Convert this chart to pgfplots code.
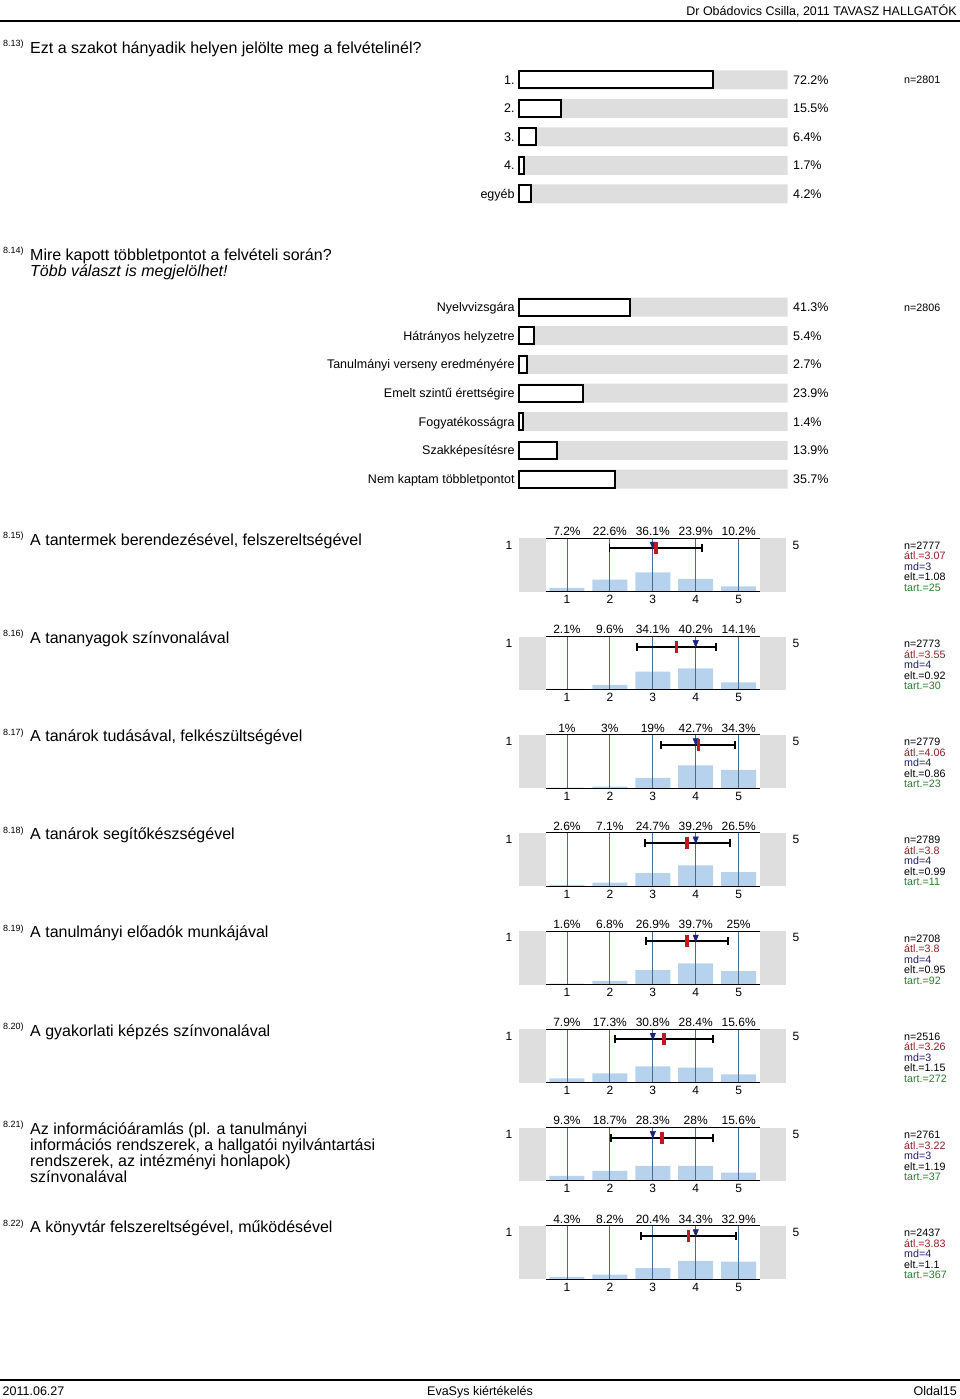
\documentclass[border=0pt]{standalone}
\usepackage{fontspec}
\setmainfont{Liberation Sans}
\usepackage{pgfplots}
\pgfplotsset{compat=1.18}

\definecolor{graybg}{RGB}{222,222,222}
\definecolor{barblue}{RGB}{183,210,236}
\definecolor{gridblue}{RGB}{72,108,145}
\definecolor{meanred}{RGB}{190,25,30}
\definecolor{mdblue}{RGB}{25,35,125}
\definecolor{atlc}{RGB}{140,30,35}
\definecolor{mdc}{RGB}{30,30,105}
\definecolor{tartc}{RGB}{40,125,45}

\newcommand\fs[1]{\fontsize{#1}{#1}\selectfont}

\pgfplotsset{
  hbars/.style={
    anchor=north west, scale only axis, width=268.3pt,
    xmin=0, xmax=100, y dir=reverse, clip=false,
    axis line style={draw=none}, major tick length=0pt,
    xtick=\empty,
    yticklabel style={font=\fs{12.5}, anchor=base east, inner sep=0pt,
      xshift=-4.5pt, yshift=-4.5pt},
  },
  panel/.style={
    anchor=north west, scale only axis, width=267pt, height=53.4pt,
    xmin=-0.11, xmax=6.11, ymin=0, ymax=100, clip=false,
    axis line style={draw=none}, major tick length=0pt,
    ytick=\empty, xtick={1,2,3,4,5}, xticklabels={1,2,3,4,5},
    xticklabel style={font=\fs{12}, anchor=base, inner sep=0pt, yshift=-12pt},
  },
}

% #1 top y, #2-#6 percentages, #7 mean, #8 median, #9 sd
\newcommand\panel[9]{%
  \begin{axis}[panel, at={(519.3pt,-#1pt)}]
    \fill[graybg] (axis cs:-0.11,0) rectangle (axis cs:0.51,100);
    \fill[graybg] (axis cs:5.49,0) rectangle (axis cs:6.11,100);
    \addplot[ybar, bar width=35pt, bar shift=0pt, fill=barblue, draw=none]
      coordinates {(1,#2) (2,#3) (3,#4) (4,#5) (5,#6)};
    \draw[gridblue, line width=0.9pt] (axis cs:1,0) -- (axis cs:1,100);
    \draw[gridblue, line width=0.9pt] (axis cs:2,0) -- (axis cs:2,100);
    \draw[gridblue, line width=0.9pt] (axis cs:3,0) -- (axis cs:3,100);
    \draw[gridblue, line width=0.9pt] (axis cs:4,0) -- (axis cs:4,100);
    \draw[gridblue, line width=0.9pt] (axis cs:5,0) -- (axis cs:5,100);
    \draw[black, line width=0.9pt] (axis cs:0.51,100) -- (axis cs:5.49,100);
    \draw[black, line width=0.9pt] (axis cs:0.51,0) -- (axis cs:5.49,0);
    \addplot[black, line width=2pt, mark=none,
      error bars/.cd, x dir=both, x explicit,
      error bar style={line width=2pt, black},
      error mark options={rotate=90, mark size=4pt, line width=1.8pt, black}]
      coordinates {(#7,81) +- (#9,0)};
    \addplot[only marks, mark=triangle*, mark size=4.5pt,
      mark options={rotate=180, xscale=0.7, fill=mdblue, draw=mdblue}]
      coordinates {(#8,88.5)};
    \addplot[only marks, mark=|, mark size=6pt,
      mark options={line width=3.6pt, draw=meanred}]
      coordinates {(#7,81)};
    \node[anchor=base, font=\fs{12}, inner sep=0pt, yshift=2.6pt] at (axis cs:1,100) {#2\%};
    \node[anchor=base, font=\fs{12}, inner sep=0pt, yshift=2.6pt] at (axis cs:2,100) {#3\%};
    \node[anchor=base, font=\fs{12}, inner sep=0pt, yshift=2.6pt] at (axis cs:3,100) {#4\%};
    \node[anchor=base, font=\fs{12}, inner sep=0pt, yshift=2.6pt] at (axis cs:4,100) {#5\%};
    \node[anchor=base, font=\fs{12}, inner sep=0pt, yshift=2.6pt] at (axis cs:5,100) {#6\%};
  \end{axis}
  \node[anchor=base, font=\fs{12}, inner sep=0pt] at (509,{#1+10.8}) {1};
  \node[anchor=base, font=\fs{12}, inner sep=0pt] at (796,{#1+10.8}) {5};
}

% #1 top y, #2 n, #3 mean, #4 md, #5 sd, #6 abstentions
\newcommand\stats[6]{%
  \node[anchor=north west, align=left, inner sep=0pt,
    font=\fontsize{10.7}{10.5}\selectfont] at (904,{#1+3.4})
    {n=#2\\\textcolor{atlc}{átl.=#3}\\\textcolor{mdc}{md=#4}\\elt.=#5\\\textcolor{tartc}{tart.=#6}};
}

% #1 baseline y, #2 number, #3 text (first line)
\newcommand\qtitle[3]{%
  \node[anchor=base west, font=\fs{9}, inner sep=0pt] at (3,{#1-6.3}) {#2)};
  \node[anchor=base west, font=\fs{16}, inner sep=0pt] at (30,#1) {#3};
}
% further line of a title: #1 baseline y, #2 text
\newcommand\qline[2]{%
  \node[anchor=base west, font=\fs{16}, inner sep=0pt] at (30,#1) {#2};
}

\begin{document}
\begin{tikzpicture}[x=1pt, y=-1pt]
  \path[use as bounding box] (0,0) rectangle (960,1399);

  % header and footer
  \node[anchor=base east, font=\fs{12.5}, inner sep=0pt] at (957,15.7) {Dr Obádovics Csilla, 2011 TAVASZ HALLGATÓK};
  \draw[line width=2pt] (0,20.7) -- (960,20.7);
  \draw[line width=2pt] (0,1380) -- (960,1380);
  \node[anchor=base west, font=\fs{12.5}, inner sep=0pt] at (2.5,1395.5) {2011.06.27};
  \node[anchor=base, font=\fs{12.5}, inner sep=0pt] at (480,1395.5) {EvaSys kiértékelés};
  \node[anchor=base east, font=\fs{12.5}, inner sep=0pt] at (957,1395.5) {Oldal15};

  % 8.13
  \qtitle{53.3}{8.13}{Ezt a szakot hányadik helyen jelölte meg a felvételinél?}
  \begin{axis}[hbars, at={(519.3pt,-65.5pt)}, height=142.75pt,
      ymin=-0.5, ymax=4.5, ytick={0,1,2,3,4},
      yticklabels={1.,2.,3.,4.,egyéb}]
    \addplot[xbar, bar width=19pt, bar shift=0pt, fill=graybg, draw=none]
      coordinates {(100,0) (100,1) (100,2) (100,3) (100,4)};
    \addplot[xbar, bar width=17pt, bar shift=0pt, fill=white, draw=black, line width=2pt]
      coordinates {(72.2,0) (15.5,1) (6.4,2) (1.7,3) (4.2,4)};
    \node[anchor=base west, font=\fs{12.5}, inner sep=0pt, xshift=5.3pt, yshift=-4.5pt] at (axis cs:100,0) {72.2\%};
    \node[anchor=base west, font=\fs{12.5}, inner sep=0pt, xshift=5.3pt, yshift=-4.5pt] at (axis cs:100,1) {15.5\%};
    \node[anchor=base west, font=\fs{12.5}, inner sep=0pt, xshift=5.3pt, yshift=-4.5pt] at (axis cs:100,2) {6.4\%};
    \node[anchor=base west, font=\fs{12.5}, inner sep=0pt, xshift=5.3pt, yshift=-4.5pt] at (axis cs:100,3) {1.7\%};
    \node[anchor=base west, font=\fs{12.5}, inner sep=0pt, xshift=5.3pt, yshift=-4.5pt] at (axis cs:100,4) {4.2\%};
  \end{axis}
  \node[anchor=base west, font=\fs{10.7}, inner sep=0pt] at (904,83.6) {n=2801};

  % 8.14
  \qtitle{260}{8.14}{Mire kapott többletpontot a felvételi során?}
  \qline{276}{\textit{Több választ is megjelölhet!}}
  \begin{axis}[hbars, at={(519.3pt,-292.7pt)}, height=200.7pt,
      ymin=-0.5, ymax=6.5, ytick={0,...,6},
      yticklabels={Nyelvvizsgára,Hátrányos helyzetre,Tanulmányi verseny eredményére,Emelt szintű érettségire,Fogyatékosságra,Szakképesítésre,Nem kaptam többletpontot}]
    \addplot[xbar, bar width=19pt, bar shift=0pt, fill=graybg, draw=none]
      coordinates {(100,0) (100,1) (100,2) (100,3) (100,4) (100,5) (100,6)};
    \addplot[xbar, bar width=17pt, bar shift=0pt, fill=white, draw=black, line width=2pt]
      coordinates {(41.3,0) (5.4,1) (2.7,2) (23.9,3) (1.4,4) (13.9,5) (35.7,6)};
    \node[anchor=base west, font=\fs{12.5}, inner sep=0pt, xshift=5.3pt, yshift=-4.5pt] at (axis cs:100,0) {41.3\%};
    \node[anchor=base west, font=\fs{12.5}, inner sep=0pt, xshift=5.3pt, yshift=-4.5pt] at (axis cs:100,1) {5.4\%};
    \node[anchor=base west, font=\fs{12.5}, inner sep=0pt, xshift=5.3pt, yshift=-4.5pt] at (axis cs:100,2) {2.7\%};
    \node[anchor=base west, font=\fs{12.5}, inner sep=0pt, xshift=5.3pt, yshift=-4.5pt] at (axis cs:100,3) {23.9\%};
    \node[anchor=base west, font=\fs{12.5}, inner sep=0pt, xshift=5.3pt, yshift=-4.5pt] at (axis cs:100,4) {1.4\%};
    \node[anchor=base west, font=\fs{12.5}, inner sep=0pt, xshift=5.3pt, yshift=-4.5pt] at (axis cs:100,5) {13.9\%};
    \node[anchor=base west, font=\fs{12.5}, inner sep=0pt, xshift=5.3pt, yshift=-4.5pt] at (axis cs:100,6) {35.7\%};
  \end{axis}
  \node[anchor=base west, font=\fs{10.7}, inner sep=0pt] at (904,311) {n=2806};

  % 8.15 - 8.22
  \qtitle{545}{8.15}{A tantermek berendezésével, felszereltségével}
  \panel{538.3}{7.2}{22.6}{36.1}{23.9}{10.2}{3.07}{3}{1.08}
  \stats{538.3}{2777}{3.07}{3}{1.08}{25}

  \qtitle{643.2}{8.16}{A tananyagok színvonalával}
  \panel{636.5}{2.1}{9.6}{34.1}{40.2}{14.1}{3.55}{4}{0.92}
  \stats{636.5}{2773}{3.55}{4}{0.92}{30}

  \qtitle{741.4}{8.17}{A tanárok tudásával, felkészültségével}
  \panel{734.7}{1}{3}{19}{42.7}{34.3}{4.06}{4}{0.86}
  \stats{734.7}{2779}{4.06}{4}{0.86}{23}

  \qtitle{839.6}{8.18}{A tanárok segítőkészségével}
  \panel{832.9}{2.6}{7.1}{24.7}{39.2}{26.5}{3.8}{4}{0.99}
  \stats{832.9}{2789}{3.8}{4}{0.99}{11}

  \qtitle{937.8}{8.19}{A tanulmányi előadók munkájával}
  \panel{931.1}{1.6}{6.8}{26.9}{39.7}{25}{3.8}{4}{0.95}
  \stats{931.1}{2708}{3.8}{4}{0.95}{92}

  \qtitle{1036}{8.20}{A gyakorlati képzés színvonalával}
  \panel{1029.3}{7.9}{17.3}{30.8}{28.4}{15.6}{3.26}{3}{1.15}
  \stats{1029.3}{2516}{3.26}{3}{1.15}{272}

  \qtitle{1134.2}{8.21}{Az információáramlás (pl. a tanulmányi}
  \qline{1150.2}{információs rendszerek, a hallgatói nyilvántartási}
  \qline{1166.2}{rendszerek, az intézményi honlapok)}
  \qline{1182.2}{színvonalával}
  \panel{1127.5}{9.3}{18.7}{28.3}{28}{15.6}{3.22}{3}{1.19}
  \stats{1127.5}{2761}{3.22}{3}{1.19}{37}

  \qtitle{1232.4}{8.22}{A könyvtár felszereltségével, működésével}
  \panel{1225.7}{4.3}{8.2}{20.4}{34.3}{32.9}{3.83}{4}{1.1}
  \stats{1225.7}{2437}{3.83}{4}{1.1}{367}
\end{tikzpicture}
\end{document}
